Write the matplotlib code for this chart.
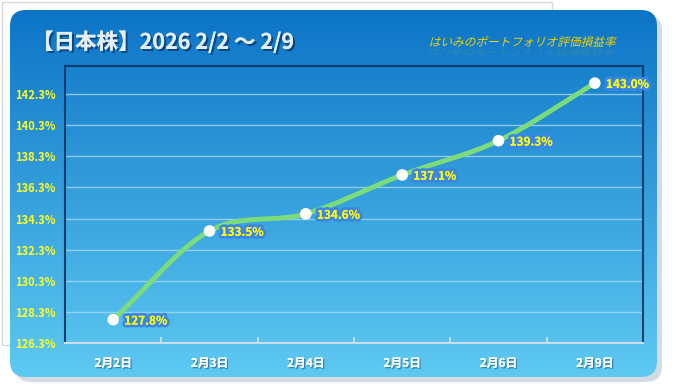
import numpy as np
import matplotlib.pyplot as plt
import matplotlib.patheffects as pe
from matplotlib.patches import FancyBboxPatch, Rectangle, PathPatch
from matplotlib.textpath import TextPath
from matplotlib.font_manager import FontProperties
from matplotlib.transforms import Affine2D

plt.rcParams['font.family'] = ['Noto Sans CJK JP', 'DejaVu Sans']

# data
dates = ["2月2日", "2月3日", "2月4日", "2月5日", "2月6日", "2月9日"]
values = [127.8, 133.5, 134.6, 137.1, 139.3, 143.0]
yticks = [126.3, 128.3, 130.3, 132.3, 134.3, 136.3, 138.3, 140.3, 142.3]
title = "【日本株】2026 2/2 ～ 2/9"
subtitle = "はいみのポートフォリオ評価損益率"

W, H = 674, 392


def smooth(xs, ys, n=30):
    # Catmull-Rom curve through the points, like Excel's smoothed line
    xs = np.asarray(xs, float)
    ys = np.asarray(ys, float)
    px = np.concatenate([[2 * xs[0] - xs[1]], xs, [2 * xs[-1] - xs[-2]]])
    py = np.concatenate([[2 * ys[0] - ys[1]], ys, [2 * ys[-1] - ys[-2]]])
    ox, oy = [], []
    t = np.linspace(0, 1, n)
    for i in range(1, len(px) - 2):
        for p, out in ((px, ox), (py, oy)):
            p0, p1, p2, p3 = p[i - 1], p[i], p[i + 1], p[i + 2]
            seg = 0.5 * ((2 * p1) + (-p0 + p2) * t
                         + (2 * p0 - 5 * p1 + 4 * p2 - p3) * t ** 2
                         + (-p0 + 3 * p1 - 3 * p2 + p3) * t ** 3)
            out.extend(seg)
    return np.array(ox), np.array(oy)


fig = plt.figure(figsize=(W / 100, H / 100), dpi=100)
fig.patch.set_facecolor("white")

# background panel
bg = fig.add_axes([0, 0, 1, 1])
bg.set_xlim(0, W)
bg.set_ylim(H, 0)
bg.axis("off")
bg.add_patch(Rectangle((2, 2), 550, 343, fill=False, ec="#d8d8d8", lw=1))
shadow = FancyBboxPatch((15, 15), 647, 367, boxstyle="round,pad=0,rounding_size=16",
                        fc="#b8c4d0", ec="none", alpha=0.6)
bg.add_patch(shadow)
panel = FancyBboxPatch((10, 10), 647, 367, boxstyle="round,pad=0,rounding_size=16",
                       fc="none", ec="none")
bg.add_patch(panel)
grad = np.linspace(0, 1, 256).reshape(-1, 1)
top = np.array([0x0c, 0x74, 0xc6]) / 255
bot = np.array([0x5e, 0xca, 0xf2]) / 255
img = top + grad[..., None] * (bot - top)
im = bg.imshow(img, extent=(10, 657, 377, 10), aspect="auto", zorder=1)
im.set_clip_path(panel)

bg.text(32, 42, title, fontsize=15.5, fontweight="bold", color="#e4eef8",
        va="center", ha="left", zorder=3,
        path_effects=[pe.withSimplePatchShadow(offset=(1.5, -1.5), shadow_rgbFace="#0a3a70", alpha=0.8),
                      pe.Normal()])

# italic subtitle with a faint reflection (CJK font has no italic, so shear the glyphs)
tp = TextPath((0, 0), subtitle, size=13, prop=FontProperties(family="Noto Sans CJK JP"))
ext = tp.get_extents()
scale = 185 / ext.width
skew = Affine2D().skew_deg(-14, 0)
main_tr = Affine2D().translate(-ext.x0, 0).scale(scale, -scale) + skew + Affine2D().translate(430, 46) + bg.transData
bg.add_patch(PathPatch(tp, fc="#f2d200", ec="none", transform=main_tr, zorder=3))
refl_tr = Affine2D().translate(-ext.x0, 0).scale(scale, scale * 0.7) + skew + Affine2D().translate(430, 49) + bg.transData
bg.add_patch(PathPatch(tp, fc="#f2d200", ec="none", alpha=0.13, transform=refl_tr, zorder=3))

# main plot
ax = fig.add_axes([65 / W, 1 - 343 / H, 578 / W, 277 / H])
ax.patch.set_alpha(0)
x = np.arange(len(dates))
ax.set_xlim(-0.5, len(dates) - 0.5)
ax.set_ylim(126.3, 144.1)
ax.set_yticks(yticks)
ax.set_yticklabels([f"{v:.1f}%" for v in yticks])
ax.set_xticks(x)
ax.set_xticklabels(dates)
ax.set_xticks(np.arange(len(dates) + 1) - 0.5, minor=True)
ax.tick_params(axis="y", length=0, pad=7, labelsize=8, labelcolor="#ffff20")
ax.tick_params(axis="x", which="major", length=0, pad=10, labelsize=8.5, labelcolor="white")
ax.tick_params(axis="x", which="minor", length=4, color="#d8e4ec", width=1.2, direction="in")
for lab in ax.get_yticklabels():
    lab.set_fontweight("bold")
for lab in ax.get_xticklabels():
    lab.set_fontweight("bold")
    lab.set_path_effects([pe.withSimplePatchShadow(offset=(1, -1), shadow_rgbFace="#2a6a9a", alpha=0.7),
                          pe.Normal()])
for side in ("left", "top", "right"):
    ax.spines[side].set_color("#0b3d6e")
    ax.spines[side].set_linewidth(1.5)
ax.spines["bottom"].set_color("#d0dce6")
ax.spines["bottom"].set_linewidth(1.5)
ax.grid(axis="y", color="#a8d8f8", lw=1, alpha=0.8)
ax.set_axisbelow(True)

sx, sy = smooth(x, values)
ax.plot(sx, sy, color="#7ddc7a", lw=3.5, solid_capstyle="round", zorder=3)
ax.scatter(x, values, s=70, color="white", zorder=4, edgecolors="none")
for xi, v in zip(x, values):
    ax.annotate(f"{v:.1f}%", (xi, v), xytext=(8, -1), textcoords="offset points",
                ha="left", va="center", fontsize=8.5, fontweight="bold", color="#ffff00",
                zorder=5,
                path_effects=[pe.withStroke(linewidth=4, foreground="#3a86e8"), pe.Normal()])

plt.savefig("out.png", dpi=100)
